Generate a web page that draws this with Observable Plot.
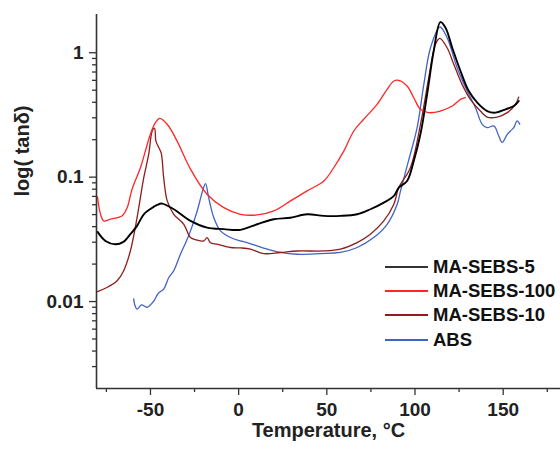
<!DOCTYPE html>
<html>
<head>
<meta charset="utf-8">
<script src="https://cdn.jsdelivr.net/npm/d3@7"></script>
<script src="https://cdn.jsdelivr.net/npm/@observablehq/plot@0.6"></script>
<style>
  html, body { margin: 0; padding: 0; background: #fff; }
  #wrap { position: relative; width: 560px; height: 454px; font-family: "Liberation Sans", Arial, sans-serif; }
  .legend { position: absolute; left: 385px; top: 255px; font-weight: bold; font-size: 18.5px; color: #111; font-family: "Liberation Sans", Arial, sans-serif; }
  .legend .row { display: flex; align-items: center; height: 24.2px; white-space: nowrap; }
  .legend .sw { width: 43px; height: 0; border-top: 2px solid; margin-right: 5px; }
</style>
</head>
<body>
<div id="wrap"></div>
<script>
// ---- Data (temperature °C, tan delta) ----
const seriesNames = ["MA-SEBS-5", "MA-SEBS-100", "MA-SEBS-10", "ABS"];
const seriesColors = ["#000000", "#ff2626", "#8e1c1c", "#4262c6"];

const tBlack = [-80, -75.5, -70, -65.3, -61.4, -57.6, -53.8, -50, -46.2, -43.4, -36.8, -27.3, -17.9, -8.4, 1, 10.5, 19.9, 29.4, 38.8, 48.3, 57.7, 67.2, 74.7, 82.3, 88, 90.8, 95.5, 99.3, 103.1, 106.9, 110.6, 114.4, 117.3, 121.1, 125.8, 130.5, 135.3, 140.9, 145.6, 151.3, 156, 158.8];
const vBlack = [0.0363, 0.0307, 0.0289, 0.0302, 0.0348, 0.0406, 0.0503, 0.0555, 0.0598, 0.0613, 0.0552, 0.0445, 0.0393, 0.0382, 0.0377, 0.0418, 0.0459, 0.0472, 0.0503, 0.0488, 0.0488, 0.0503, 0.0552, 0.0624, 0.0707, 0.0824, 0.0931, 0.135, 0.222, 0.466, 1.03, 1.765, 1.59, 1.097, 0.713, 0.492, 0.397, 0.340, 0.330, 0.351, 0.373, 0.409];

const tRed = [-80, -78.5, -76.5, -72.7, -66, -63.2, -60.4, -55.7, -52.9, -50, -47.2, -44.7, -40.5, -34.9, -27.3, -17.9, -8.4, 1, 10.5, 19.9, 29.4, 38.8, 48.3, 53.9, 59.6, 65.3, 70.9, 78.5, 84.2, 88, 90.8, 95.5, 99.3, 103.1, 107.8, 114.4, 121.1, 125.8, 128.6];
const vRed = [0.0693, 0.0516, 0.0445, 0.046, 0.049, 0.0569, 0.0804, 0.119, 0.162, 0.222, 0.274, 0.297, 0.266, 0.195, 0.116, 0.0729, 0.0569, 0.0503, 0.0497, 0.0535, 0.0644, 0.0775, 0.0931, 0.119, 0.162, 0.235, 0.292, 0.385, 0.508, 0.593, 0.60, 0.540, 0.435, 0.351, 0.330, 0.340, 0.373, 0.422, 0.435];

const tDark = [-80, -75, -68.9, -65.2, -61.4, -57.6, -53.8, -51, -49, -47.7, -46.9, -45.3, -43.9, -42.5, -40.5, -36.8, -31.1, -27.3, -24, -19.8, -17.9, -16, -12.2, -4.6, 1, 6.7, 14.2, 23.7, 33.2, 48.3, 57.7, 67.2, 74.7, 82.3, 88, 90.8, 97.4, 103.1, 107.8, 111.6, 114, 118.2, 122, 126.7, 131.4, 137.1, 140.9, 146.6, 152.3, 157, 158.8];
const vDark = [0.0120, 0.0129, 0.0147, 0.0177, 0.0255, 0.0473, 0.099, 0.153, 0.235, 0.248, 0.195, 0.173, 0.156, 0.099, 0.0644, 0.0503, 0.0418, 0.0327, 0.0313, 0.0307, 0.0327, 0.0297, 0.0289, 0.0272, 0.027, 0.0264, 0.0243, 0.0248, 0.0255, 0.0255, 0.0264, 0.0298, 0.0348, 0.0445, 0.0606, 0.0824, 0.119, 0.266, 0.63, 1.168, 1.305, 1.097, 0.807, 0.557, 0.422, 0.34, 0.304, 0.304, 0.33, 0.385, 0.44];

const tBlue = [-59.5, -58.8, -57.6, -55.1, -51.9, -48.1, -45.5, -42.5, -39.6, -36.8, -33, -29.6, -27.3, -23.5, -20.7, -18.8, -17, -14.1, -10.3, -4.6, 1, 4.8, 14.2, 23.7, 33.2, 46.4, 57.7, 67.2, 76.6, 84.2, 89.9, 91.8, 96.3, 101.2, 105, 108.8, 114.1, 118.2, 123.9, 129.6, 134.3, 138.1, 140.9, 144.7, 147.5, 149.4, 152.3, 154.1, 156, 157.9, 159.4];
const vBlue = [0.0105, 0.0093, 0.0087, 0.0094, 0.0090, 0.0101, 0.0117, 0.0126, 0.0156, 0.0177, 0.024, 0.0307, 0.0370, 0.0535, 0.0751, 0.0888, 0.0685, 0.0473, 0.0370, 0.0327, 0.0307, 0.0298, 0.0269, 0.0248, 0.024, 0.0243, 0.0248, 0.0272, 0.0327, 0.0418, 0.0606, 0.0775, 0.135, 0.25, 0.557, 1.097, 1.61, 1.32, 0.758, 0.492, 0.362, 0.266, 0.250, 0.258, 0.214, 0.19, 0.221, 0.235, 0.25, 0.283, 0.266];

const xMajor = [-50, 0, 50, 100, 150];
const xMinor = [-75, -25, 25, 75, 125, 175];
const yMajor = [0.01, 0.1, 1];
const yMinor = [0.003, 0.004, 0.005, 0.006, 0.007, 0.008, 0.009, 0.02, 0.03, 0.04, 0.05, 0.06, 0.07, 0.08, 0.09, 0.2, 0.3, 0.4, 0.5, 0.6, 0.7, 0.8, 0.9];
const xLabel = "Temperature, °C";
const yLabel = "log( tanδ)";

// ---- Build table ----
const toRows = (name, ts, vs) => ts.map((t, i) => ({series: name, t, v: vs[i]}));
const rows = {
  "MA-SEBS-5": toRows("MA-SEBS-5", tBlack, vBlack),
  "MA-SEBS-100": toRows("MA-SEBS-100", tRed, vRed),
  "MA-SEBS-10": toRows("MA-SEBS-10", tDark, vDark),
  "ABS": toRows("ABS", tBlue, vBlue)
};
const drawOrder = ["ABS", "MA-SEBS-10", "MA-SEBS-100", "MA-SEBS-5"];
const colorOf = Object.fromEntries(seriesNames.map((n, i) => [n, seriesColors[i]]));

const xDomain = [-80.6, 182.5];
const yDomain = [0.002, 2.03];
const FONT = '"Liberation Sans", Arial, sans-serif';

const chart = Plot.plot({
  width: 560,
  height: 454,
  marginLeft: 96,
  marginRight: 0,
  marginTop: 14,
  marginBottom: 66,
  x: {domain: xDomain},
  y: {type: "log", domain: yDomain},
  style: {fontFamily: FONT, fontSize: "19px", fontWeight: "bold", color: "#2a2a2a", background: "#fff", overflow: "visible"},
  marks: [
    ...drawOrder.map(n => Plot.line(rows[n], {
      x: "t", y: "v", stroke: colorOf[n],
      strokeWidth: n === "MA-SEBS-5" ? 1.9 : 1.3,
      curve: "catmull-rom"
    })),
    Plot.axisX({ticks: xMajor, tickSize: 7, tickPadding: 6.5, tickFormat: d => String(d), label: null, stroke: "#333", strokeWidth: 1.3, fill: "#222", fontSize: 19, fontWeight: "bold", fontFamily: FONT}),
    Plot.axisX({ticks: xMinor, tickSize: 4, tickFormat: () => "", label: null, stroke: "#333", strokeWidth: 1.3}),
    Plot.axisY({ticks: yMajor, tickSize: 7, tickPadding: 6, tickFormat: d => String(d), label: null, stroke: "#333", strokeWidth: 1.3, fill: "#222", fontSize: 19, fontWeight: "bold", fontFamily: FONT}),
    Plot.axisY({ticks: yMinor, tickSize: 4, tickFormat: () => "", label: null, stroke: "#333", strokeWidth: 1.3}),
    Plot.ruleX([xDomain[0]], {stroke: "#333", strokeWidth: 1.6}),
    Plot.ruleY([yDomain[0]], {stroke: "#333", strokeWidth: 1.6}),
    Plot.text([xLabel], {frameAnchor: "bottom", dy: 48, fill: "#222", fontSize: 20, fontWeight: "bold", fontFamily: FONT}),
    Plot.text([yLabel], {frameAnchor: "left", rotate: -90, dx: -73.5, dy: -5, fill: "#222", fontSize: 20, fontWeight: "bold", fontFamily: FONT})
  ]
});

const wrap = document.getElementById("wrap");
wrap.appendChild(chart);

const legend = document.createElement("div");
legend.className = "legend";
seriesNames.forEach((n, i) => {
  const row = document.createElement("div");
  row.className = "row";
  const sw = document.createElement("span");
  sw.className = "sw";
  sw.style.borderTopColor = i === 0 ? "#333" : seriesColors[i];
  const lab = document.createElement("span");
  lab.textContent = n;
  row.appendChild(sw);
  row.appendChild(lab);
  legend.appendChild(row);
});
wrap.appendChild(legend);
</script>
</body>
</html>
